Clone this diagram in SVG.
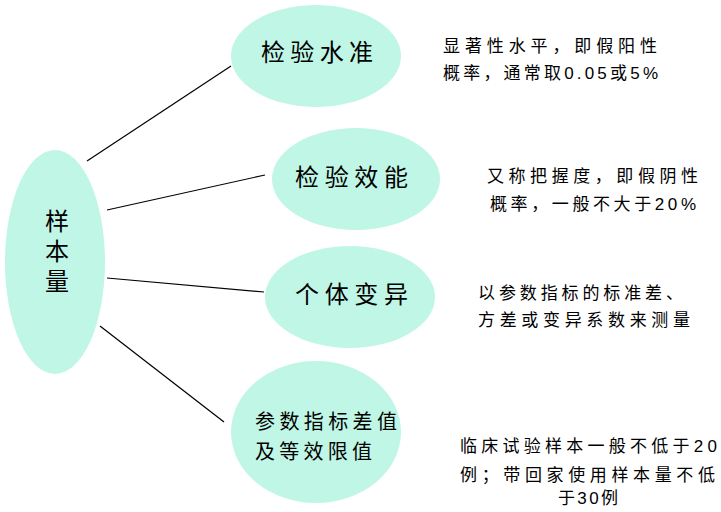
<svg xmlns="http://www.w3.org/2000/svg" width="721" height="512" viewBox="0 0 721 512">
<style>
.node ellipse{fill:#c0f6e6;stroke:none}
.nt{font-family:"Noto Sans CJK SC","Liberation Sans",sans-serif;font-size:24px;fill:#000}
.nt2{font-family:"Noto Sans CJK SC","Liberation Sans",sans-serif;font-size:20px;fill:#000}
.note{font-family:"Liberation Sans","Noto Sans CJK SC",sans-serif;font-size:17px;fill:#000}
#connectors line{stroke:#000;stroke-width:1.2}
</style>
<rect width="721" height="512" fill="#fff"/>
<g id="connectors">
<line x1="87" y1="161" x2="231" y2="66"/>
<line x1="107" y1="210" x2="265" y2="175"/>
<line x1="107" y1="278" x2="264" y2="292"/>
<line x1="100" y1="326" x2="224" y2="422"/>
</g>
<g id="sample" class="node">
<ellipse cx="55" cy="262" rx="50" ry="112"/>
<text class="nt" x="57" y="209" style="writing-mode:vertical-rl;letter-spacing:6px">样本量</text>
</g>
<g id="level" class="node">
<ellipse cx="316" cy="56" rx="85" ry="51"/>
<text class="nt" x="261" y="61" textLength="112" lengthAdjust="spacing">检验水准</text>
</g>
<g id="power" class="node">
<ellipse cx="356" cy="179" rx="84" ry="51"/>
<text class="nt" x="295" y="186" textLength="113" lengthAdjust="spacing">检验效能</text>
</g>
<g id="variation" class="node">
<ellipse cx="350" cy="297" rx="85" ry="51"/>
<text class="nt" x="295" y="303" textLength="113" lengthAdjust="spacing">个体变异</text>
</g>
<g id="margin" class="node">
<ellipse cx="316" cy="432" rx="85" ry="71"/>
<text class="nt2"><tspan x="255" y="429" textLength="142" lengthAdjust="spacing">参数指标差值</tspan><tspan x="255" y="459" textLength="117" lengthAdjust="spacing">及等效限值</tspan></text>
</g>
<g id="notes">
<text class="note" x="443" y="52" textLength="214" lengthAdjust="spacing">显著性水平，即假阳性</text>
<text class="note" x="443" y="79" textLength="215" lengthAdjust="spacing">概率，通常取0.05或5%</text>
<text class="note" x="487" y="182" textLength="211" lengthAdjust="spacing">又称把握度，即假阴性</text>
<text class="note" x="490" y="210" textLength="206" lengthAdjust="spacing">概率，一般不大于20%</text>
<text class="note" x="478" y="299" textLength="205" lengthAdjust="spacing">以参数指标的标准差、</text>
<text class="note" x="478" y="326" textLength="212" lengthAdjust="spacing">方差或变异系数来测量</text>
<text class="note" x="460" y="452" textLength="257" lengthAdjust="spacing">临床试验样本一般不低于20</text>
<text class="note" x="460" y="481" textLength="255" lengthAdjust="spacing">例；带回家使用样本量不低</text>
<text class="note" x="558" y="504" textLength="60" lengthAdjust="spacing">于30例</text>
</g>
</svg>
